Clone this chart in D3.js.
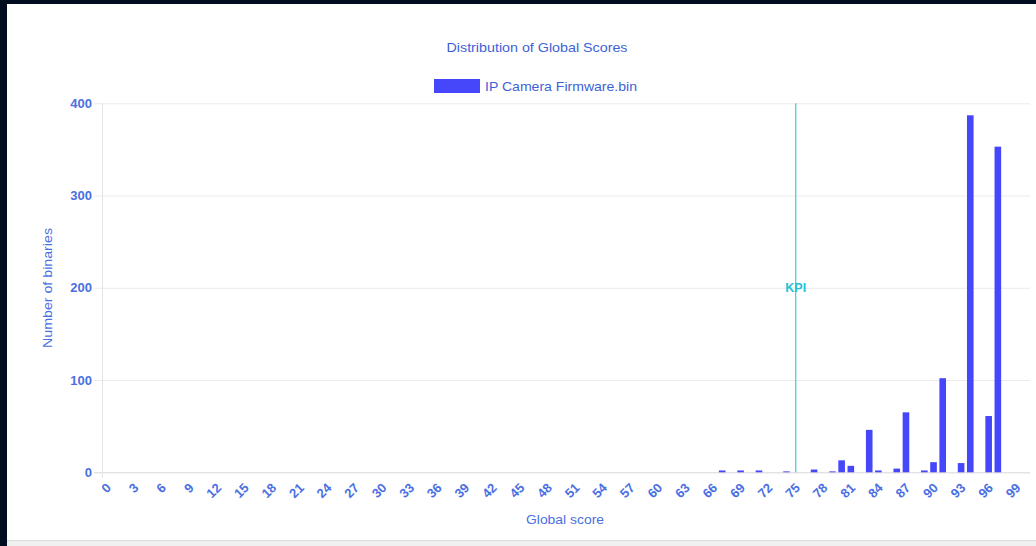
<!DOCTYPE html>
<html>
<head>
<meta charset="utf-8">
<script src="https://cdn.jsdelivr.net/npm/d3@7"></script>
<style>
  html, body { margin: 0; padding: 0; background: #000c1f; }
  #canvas { display: block; }
</style>
</head>
<body>
<svg id="canvas" width="1036" height="546"></svg>
<script>
// Score buckets 0..100, counts (zero elsewhere)
const scores = d3.range(0, 101);
const nonZero = [
    [67, 2], [69, 2], [71, 2], [74, 1], [77, 3], [79, 1],
    [80, 13], [81, 7], [83, 46], [84, 2], [86, 4], [87, 65],
    [89, 2], [90, 11], [91, 102], [93, 10], [94, 387], [96, 61], [97, 353]
];
const counts = scores.map(s => { const f = nonZero.find(d => d[0] === s); return f ? f[1] : 0; });
const yTicks = [0, 100, 200, 300, 400];
const xTickLabels = scores.filter(s => s % 3 === 0 && s < 100);
const kpiScore = 75;
const seriesName = "IP Camera Firmware.bin";

const svg = d3.select("#canvas");

// Panel background
svg.append("rect").attr("x", 7).attr("y", 4).attr("width", 1029).attr("height", 542).attr("fill", "#f0f0f0");
svg.append("rect").attr("x", 7).attr("y", 4).attr("width", 1029).attr("height", 536).attr("fill", "#ffffff");
svg.append("line").attr("x1", 7).attr("x2", 1036).attr("y1", 540.5).attr("y2", 540.5).attr("stroke", "#dcdcdc");

const margin = { left: 102, right: 1030, top: 103.3, bottom: 472.3 };
const textColor = "#4a6fe3";
const font = "'Liberation Sans', Arial, sans-serif";

const x = d3.scaleBand().domain(scores).range([margin.left, margin.right]).paddingInner(0.28).paddingOuter(0.14);
const xc = s => margin.left + (s + 0.5) * (margin.right - margin.left) / scores.length;
const y = d3.scaleLinear().domain([0, 400]).range([margin.bottom, margin.top]);

// Grid lines
svg.append("g")
    .selectAll("line")
    .data(yTicks)
    .enter()
    .append("line")
    .attr("x1", margin.left - 8).attr("x2", margin.right)
    .attr("y1", d => y(d) + 0.5).attr("y2", d => y(d) + 0.5)
    .attr("stroke", d => d === 0 ? "#d6d6d6" : "#ececec");

svg.append("line")
    .attr("x1", margin.left + 0.5).attr("x2", margin.left + 0.5)
    .attr("y1", margin.top).attr("y2", margin.bottom + 6)
    .attr("stroke", "#e4e4e4");

// Y ticks
svg.append("g")
    .selectAll("text")
    .data(yTicks)
    .enter()
    .append("text")
    .attr("x", margin.left - 10).attr("y", d => y(d) + 4.5)
    .attr("text-anchor", "end")
    .attr("font-family", font).attr("font-size", 13).attr("font-weight", "bold")
    .attr("fill", textColor)
    .text(d => d);

// X ticks
svg.append("g")
    .selectAll("text")
    .data(xTickLabels)
    .enter()
    .append("text")
    .attr("transform", d => `translate(${xc(d) + 2},${margin.bottom + 13}) rotate(-45)`)
    .attr("text-anchor", "end")
    .attr("dy", "0.35em")
    .attr("font-family", font).attr("font-size", 13).attr("font-weight", "bold")
    .attr("fill", textColor)
    .text(d => d);

// Bars
svg.append("g")
    .selectAll("rect")
    .data(scores.filter(s => counts[s] > 0))
    .enter()
    .append("rect")
    .attr("x", d => xc(d) - x.bandwidth() / 2)
    .attr("width", x.bandwidth())
    .attr("y", d => y(counts[d]))
    .attr("height", d => margin.bottom - y(counts[d]))
    .attr("fill", "#4646fb");

// KPI line
svg.append("line")
    .attr("x1", xc(kpiScore)).attr("x2", xc(kpiScore))
    .attr("y1", margin.top).attr("y2", margin.bottom)
    .attr("stroke", "#45cfe0").attr("stroke-width", 1.3);
svg.append("text")
    .attr("x", xc(kpiScore)).attr("y", y(200) + 4.5)
    .attr("text-anchor", "middle")
    .attr("font-family", font).attr("font-size", 12).attr("font-weight", "bold")
    .attr("textLength", 21).attr("lengthAdjust", "spacingAndGlyphs")
    .attr("fill", "#22c2d8")
    .text("KPI");

// Title
svg.append("text")
    .attr("x", 537).attr("y", 52)
    .attr("text-anchor", "middle")
    .attr("font-family", font).attr("font-size", 13)
    .attr("textLength", 181).attr("lengthAdjust", "spacingAndGlyphs")
    .attr("fill", "#3e62d6")
    .text("Distribution of Global Scores");

// Legend
svg.append("rect").attr("x", 434).attr("y", 79).attr("width", 46).attr("height", 14).attr("fill", "#4646fb");
svg.append("text")
    .attr("x", 485).attr("y", 91)
    .attr("font-family", font).attr("font-size", 13)
    .attr("textLength", 152).attr("lengthAdjust", "spacingAndGlyphs")
    .attr("fill", "#3e62d6")
    .text(seriesName);

// Axis titles
svg.append("text")
    .attr("x", 565).attr("y", 524)
    .attr("text-anchor", "middle")
    .attr("font-family", font).attr("font-size", 13)
    .attr("textLength", 78).attr("lengthAdjust", "spacingAndGlyphs")
    .attr("fill", textColor)
    .text("Global score");

svg.append("text")
    .attr("transform", "translate(52,288) rotate(-90)")
    .attr("text-anchor", "middle")
    .attr("font-family", font).attr("font-size", 13)
    .attr("textLength", 120).attr("lengthAdjust", "spacingAndGlyphs")
    .attr("fill", textColor)
    .text("Number of binaries");
</script>
</body>
</html>
